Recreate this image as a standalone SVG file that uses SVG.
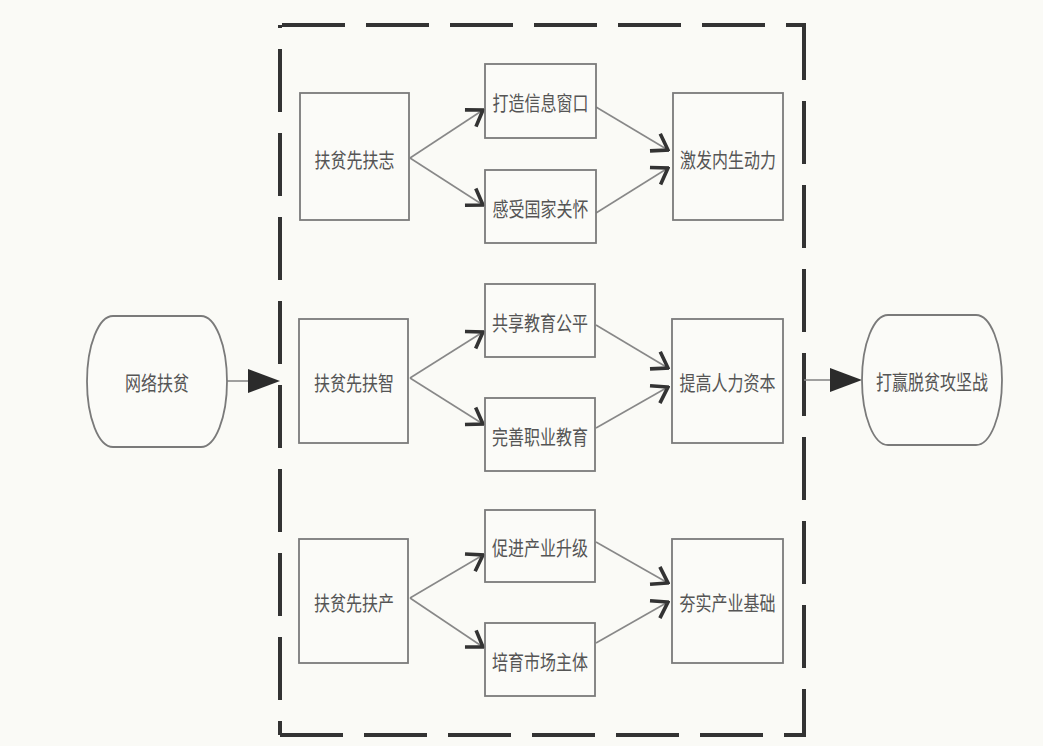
<svg xmlns="http://www.w3.org/2000/svg" width="1043" height="746" viewBox="0 0 1043 746">
<defs>
<style>
.box{fill:#fbfbf8;stroke:#7a7a7a;stroke-width:1.8}
.t{font-family:"Noto Sans CJK SC","Noto Sans CJK TC",sans-serif;font-size:16px;fill:#555;text-anchor:middle;dominant-baseline:central}
.c{stroke:#888;stroke-width:1.6;fill:none}
.dash{stroke:#333;stroke-width:4;fill:none;stroke-dasharray:63 21}
.head{fill:#2b2b2b}
</style>
<marker id="v" viewBox="-18 -12 20 24" refX="0" refY="0" markerWidth="20" markerHeight="24" markerUnits="userSpaceOnUse" orient="auto">
<path d="M-15,-10 L0,0 L-15,10" fill="none" stroke="#333" stroke-width="3.6" stroke-linejoin="miter" stroke-linecap="butt"/>
</marker>
</defs>
<rect x="0" y="0" width="1043" height="746" fill="#fafaf6"/>

<g id="frame">
<line class="dash" x1="282" y1="25" x2="806" y2="25"/>
<line class="dash" x1="804" y1="25" x2="804" y2="735" style="stroke-dashoffset:8"/>
<line class="dash" x1="280" y1="25" x2="280" y2="735" style="stroke-dashoffset:60"/>
<line class="dash" x1="280" y1="735" x2="806" y2="735"/>
</g>

<g id="connectors">
<line class="c" x1="227" y1="381" x2="250" y2="381"/>
<polygon class="head" points="248,369 280,381 248,393"/>
<line class="c" x1="804" y1="380" x2="832" y2="380"/>
<polygon class="head" points="830,368 862,380 830,392"/>

<line class="c" x1="410" y1="158" x2="483" y2="110" marker-end="url(#v)"/>
<line class="c" x1="410" y1="158" x2="483" y2="205" marker-end="url(#v)"/>
<line class="c" x1="596" y1="107" x2="668" y2="150" marker-end="url(#v)"/>
<line class="c" x1="596" y1="213" x2="668" y2="168" marker-end="url(#v)"/>

<line class="c" x1="410" y1="378" x2="483" y2="332" marker-end="url(#v)"/>
<line class="c" x1="410" y1="378" x2="483" y2="424" marker-end="url(#v)"/>
<line class="c" x1="596" y1="325" x2="668" y2="368" marker-end="url(#v)"/>
<line class="c" x1="596" y1="428" x2="668" y2="387" marker-end="url(#v)"/>

<line class="c" x1="410" y1="598" x2="483" y2="555" marker-end="url(#v)"/>
<line class="c" x1="410" y1="598" x2="483" y2="647" marker-end="url(#v)"/>
<line class="c" x1="596" y1="542" x2="668" y2="583" marker-end="url(#v)"/>
<line class="c" x1="596" y1="643" x2="668" y2="602" marker-end="url(#v)"/>
</g>

<g id="n-start">
<path class="box" d="M113,316 H201 A26,65.5 0 0 1 201,447 H113 A26,65.5 0 0 1 113,316 Z"/>
<text class="t" transform="translate(157,381) scale(1,1.3)">网络扶贫</text>
</g>
<g id="n-end">
<path class="box" d="M888,315 H976 A26,65 0 0 1 976,445 H888 A26,65 0 0 1 888,315 Z"/>
<text class="t" transform="translate(932,380) scale(1,1.3)">打赢脱贫攻坚战</text>
</g>

<g id="n-zhi">
<rect class="box" x="300" y="93" width="109" height="127"/>
<text class="t" transform="translate(354.5,158) scale(1,1.3)">扶贫先扶志</text>
</g>
<g id="n-xinxi">
<rect class="box" x="485" y="64" width="111" height="74"/>
<text class="t" transform="translate(540.5,101) scale(1,1.3)">打造信息窗口</text>
</g>
<g id="n-guanhuai">
<rect class="box" x="485" y="170" width="111" height="73"/>
<text class="t" transform="translate(540.5,207) scale(1,1.3)">感受国家关怀</text>
</g>
<g id="n-dongli">
<rect class="box" x="673" y="93" width="110" height="127"/>
<text class="t" transform="translate(728,158) scale(1,1.3)">激发内生动力</text>
</g>

<g id="n-zhi2">
<rect class="box" x="299" y="319" width="109" height="124"/>
<text class="t" transform="translate(354,381) scale(1,1.3)">扶贫先扶智</text>
</g>
<g id="n-gongping">
<rect class="box" x="485" y="284" width="110" height="73"/>
<text class="t" transform="translate(540,321) scale(1,1.3)">共享教育公平</text>
</g>
<g id="n-zhiye">
<rect class="box" x="485" y="398" width="110" height="73"/>
<text class="t" transform="translate(540,435) scale(1,1.3)">完善职业教育</text>
</g>
<g id="n-ziben">
<rect class="box" x="672" y="319" width="111" height="124"/>
<text class="t" transform="translate(727.5,381) scale(1,1.3)">提高人力资本</text>
</g>

<g id="n-chan">
<rect class="box" x="299" y="539" width="109" height="124"/>
<text class="t" transform="translate(354,601) scale(1,1.3)">扶贫先扶产</text>
</g>
<g id="n-shengji">
<rect class="box" x="485" y="510" width="110" height="72"/>
<text class="t" transform="translate(540,546) scale(1,1.3)">促进产业升级</text>
</g>
<g id="n-zhuti">
<rect class="box" x="485" y="623" width="110" height="73"/>
<text class="t" transform="translate(540,660) scale(1,1.3)">培育市场主体</text>
</g>
<g id="n-jichu">
<rect class="box" x="672" y="539" width="111" height="124"/>
<text class="t" transform="translate(727.5,601) scale(1,1.3)">夯实产业基础</text>
</g>
</svg>
